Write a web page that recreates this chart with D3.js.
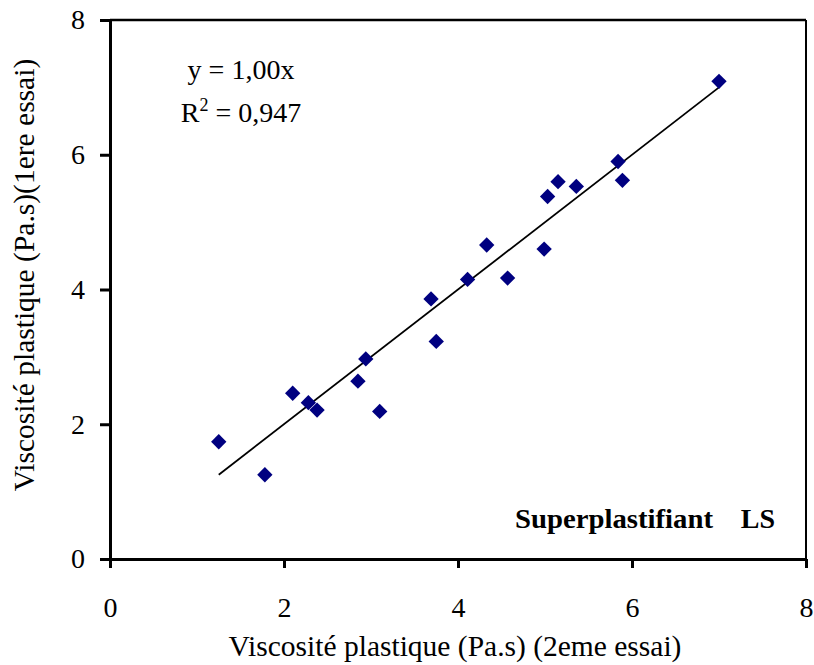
<!DOCTYPE html>
<html>
<head>
<meta charset="utf-8">
<script src="https://cdnjs.cloudflare.com/ajax/libs/d3/7.8.5/d3.min.js"></script>
<style>
  body { margin: 0; background: #fff; }
  text { font-family: "Liberation Serif", "Times New Roman", serif; }
</style>
</head>
<body>
<div id="chart"></div>
<script>
// 2eme essai (x) vs 1ere essai (y), Pa.s
const essai2 = [1.25, 1.78, 2.10, 2.28, 2.38, 2.85, 2.94, 3.10, 3.69, 3.75, 4.11, 4.33, 4.57, 4.99, 5.03, 5.15, 5.36, 5.84, 5.89, 7.00];
const essai1 = [1.74, 1.25, 2.46, 2.32, 2.21, 2.64, 2.97, 2.19, 3.86, 3.23, 4.15, 4.66, 4.17, 4.60, 5.38, 5.60, 5.53, 5.90, 5.62, 7.09];
const xTicks = [0, 2, 4, 6, 8];
const yTicks = [0, 2, 4, 6, 8];
const slope = 1.00;
const equationText = "y = 1,00x";
const r2Value = "0,947";

const width = 814, height = 665;
const margin = { top: 20, right: 8, bottom: 106, left: 110 };
const innerW = width - margin.left - margin.right;
const innerH = height - margin.top - margin.bottom;

const svg = d3.select("#chart").append("svg")
  .attr("width", width)
  .attr("height", height);

const g = svg.append("g")
  .attr("transform", "translate(" + margin.left + "," + margin.top + ")");

const x = d3.scaleLinear().domain([0, 8]).range([0, innerW]);
const y = d3.scaleLinear().domain([0, 8]).range([innerH, 0]);

const points = essai2.map((d, i) => ({ x: d, y: essai1[i] }));

// plot frame (top and right)
g.append("line")
  .attr("x1", 0).attr("x2", innerW).attr("y1", 0).attr("y2", 0)
  .attr("stroke", "#000").attr("stroke-width", 2.5);
g.append("line")
  .attr("x1", innerW).attr("x2", innerW).attr("y1", 0).attr("y2", innerH)
  .attr("stroke", "#000").attr("stroke-width", 2);

// axes
const xAxis = g.append("g")
  .attr("transform", "translate(0," + innerH + ")")
  .call(d3.axisBottom(x).tickValues(xTicks).tickSizeInner(9).tickSizeOuter(0).tickPadding(29));
const yAxis = g.append("g")
  .call(d3.axisLeft(y).tickValues(yTicks).tickSizeInner(10).tickSizeOuter(0).tickPadding(15));

[xAxis, yAxis].forEach(a => {
  a.select(".domain").attr("stroke", "#000").attr("stroke-width", 3);
  a.selectAll(".tick line").attr("stroke", "#000").attr("stroke-width", 3);
  a.selectAll(".tick text")
    .attr("fill", "#000")
    .style("font-family", "'Liberation Serif', 'Times New Roman', serif")
    .style("font-size", "28px");
});

// trend line through origin, drawn over the data range
const xMin = d3.min(essai2), xMax = d3.max(essai2);
g.append("line")
  .attr("x1", x(xMin)).attr("y1", y(slope * xMin))
  .attr("x2", x(xMax)).attr("y2", y(slope * xMax))
  .attr("stroke", "#000")
  .attr("stroke-width", 1.8);

// markers
g.append("g")
  .selectAll("path")
  .data(points)
  .join("path")
  .attr("transform", d => "translate(" + x(d.x) + "," + y(d.y) + ")")
  .attr("d", d3.symbol().type(d3.symbolDiamond2).size(150))
  .attr("fill", "#000080");

// equation
g.append("text")
  .attr("x", 131).attr("y", 59)
  .attr("text-anchor", "middle")
  .style("font-size", "28px")
  .text(equationText);

const r2 = g.append("text")
  .attr("x", 131).attr("y", 102)
  .attr("text-anchor", "middle")
  .style("font-size", "28px");
r2.append("tspan").text("R");
r2.append("tspan").attr("dy", -11).style("font-size", "18px").text("2");
r2.append("tspan").attr("dy", 11).text(" = " + r2Value);

// series label
g.append("text")
  .attr("x", 405).attr("y", 508)
  .style("font-size", "28px")
  .style("font-weight", "bold")
  .attr("textLength", 198)
  .attr("lengthAdjust", "spacingAndGlyphs")
  .text("Superplastifiant");
g.append("text")
  .attr("x", 665).attr("y", 508)
  .attr("text-anchor", "end")
  .style("font-size", "28px")
  .style("font-weight", "bold")
  .text("LS");

// axis titles
svg.append("text")
  .attr("x", 455).attr("y", 656)
  .attr("text-anchor", "middle")
  .style("font-size", "29.5px")
  .text("Viscosité plastique (Pa.s) (2eme essai)");

svg.append("text")
  .attr("transform", "translate(34,275) rotate(-90)")
  .attr("text-anchor", "middle")
  .style("font-size", "29.5px")
  .text("Viscosité plastique (Pa.s)(1ere essai)");
</script>
</body>
</html>
